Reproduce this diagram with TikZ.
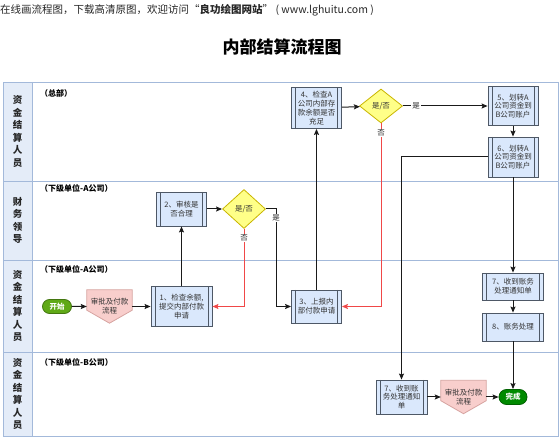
\documentclass[tikz,border=0pt]{standalone}
\usepackage{fontspec}
\setmainfont{Noto Sans CJK SC}
\usetikzlibrary{arrows.meta,shapes.geometric,shapes.misc,backgrounds}
\definecolor{laneline}{HTML}{A3B9DA}
\definecolor{headfill}{HTML}{E4ECF8}
\definecolor{boxfill}{HTML}{DAE8FC}
\definecolor{boxline}{HTML}{4E5866}
\definecolor{dfill}{HTML}{FFFF88}
\definecolor{dline}{HTML}{C9B500}
\definecolor{opfill}{HTML}{F8CECC}
\definecolor{opline}{HTML}{D6A3A0}
\definecolor{startg}{HTML}{60A917}
\definecolor{endg}{HTML}{008A00}
\definecolor{redl}{HTML}{F04848}
\definecolor{conn}{HTML}{1A1A1A}
\tikzset{
  lane/.style={draw=laneline, line width=0.8pt},
  headtxt/.style={font=\fontsize{9.5}{12.5}\selectfont\bfseries, align=center, text=black!85},
  sublbl/.style={font=\fontsize{8}{9}\selectfont\bfseries, anchor=west, inner sep=0pt},
  proc/.style={draw=boxline, fill=boxfill, line width=0.8pt, align=center, inner sep=1pt,
    font=\fontsize{7.5}{8.8}\selectfont, text=black!80,
    path picture={
      \draw[boxline, line width=0.8pt] ([xshift=4pt]path picture bounding box.north west) -- ([xshift=4pt]path picture bounding box.south west);
      \draw[boxline, line width=0.8pt] ([xshift=-4pt]path picture bounding box.north east) -- ([xshift=-4pt]path picture bounding box.south east);}},
  dec/.style={diamond, draw=dline, fill=dfill, line width=0.8pt, inner sep=0pt,
    font=\fontsize{7.5}{9}\selectfont, text=black!80},
  oppage/.style={draw=none, align=center, inner sep=0pt, minimum width=45pt, minimum height=33pt,
    font=\fontsize{7.5}{8.8}\selectfont, text=black!80},
  term/.style={rounded rectangle, line width=0.8pt, inner sep=0pt, text=white,
    font=\fontsize{7.5}{9}\selectfont\bfseries},
  arr/.style={draw=conn, line width=1pt, -{Stealth[length=6pt,width=5pt,inset=1pt]}},
  rarr/.style={draw=redl, line width=1pt, -{Stealth[length=6pt,width=5pt,inset=1pt]}},
  lbl/.style={fill=white, inner sep=1pt, font=\fontsize{7.5}{9}\selectfont, text=black!85},
}
\begin{document}
\begin{tikzpicture}[x=1pt,y=-1pt]
\useasboundingbox (0,0) rectangle (560,438);
% top text and title
\node[anchor=west, inner sep=0pt, font=\fontsize{10.5}{12}\selectfont, text=black!85] (top) at (0,10)
  {在线画流程图，下载高清原图，欢迎访问“\textbf{良功绘图网站}” ( www.lghuitu.com )};
\node[font=\fontsize{17}{20}\selectfont\bfseries] (title) at (282,47) {内部结算流程图};
% lanes
\fill[headfill] (3,82) rectangle (32,436);
\draw[lane] (3,82) rectangle (558,436);
\draw[lane] (32,82) -- (32,436);
\draw[lane] (3,181) -- (558,181);
\draw[lane] (3,260) -- (558,260);
\draw[lane] (3,352) -- (558,352);
\node[headtxt] (h1) at (17.5,131.5) {资\\金\\结\\算\\人\\员};
\node[headtxt] (h2) at (17.5,220.5) {财\\务\\领\\导};
\node[headtxt] (h3) at (17.5,306) {资\\金\\结\\算\\人\\员};
\node[headtxt] (h4) at (17.5,394) {资\\金\\结\\算\\人\\员};
\node[sublbl] (s1) at (40,93) {（总部）};
\node[sublbl] (s2) at (40,188) {（下级单位-A公司）};
\node[sublbl] (s3) at (40,269) {（下级单位-A公司）};
\node[sublbl] (s4) at (40,362) {（下级单位-B公司）};
% nodes
\node[term, fill=startg, draw=startg!70!black, minimum width=29pt, minimum height=14pt] (start) at (57,306.5) {开始};
\node[oppage] (op1) at (109.5,306.5) {审批及付款\\流程};
\node[proc, minimum width=61pt, minimum height=40pt] (b1) at (181.5,306.5) {1、检查余额,\\提交内部付款\\申请};
\node[proc, minimum width=50pt, minimum height=34pt] (b2) at (181.5,209) {2、审核是\\否合理};
\node[dec, minimum width=43pt, minimum height=39pt] (d1) at (244,209) {是/否};
\node[proc, minimum width=50pt, minimum height=33pt] (b3) at (316.5,306.5) {3、上报内\\部付款申请};
\node[proc, minimum width=50pt, minimum height=41pt] (b4) at (316.5,108) {4、检查A\\公司内部存\\款余额是否\\充足};
\node[dec, minimum width=43pt, minimum height=34pt] (d2) at (381,106) {是/否};
\node[proc, minimum width=50pt, minimum height=39pt] (b5) at (513,106) {5、划转A\\公司资金到\\B公司账户};
\node[proc, minimum width=50pt, minimum height=40pt] (b6) at (513,157) {6、划转A\\公司资金到\\B公司账户};
\node[proc, minimum width=61pt, minimum height=27pt] (b7) at (513,286.5) {7、收到账务\\处理通知单};
\node[proc, minimum width=61pt, minimum height=28pt] (b8) at (513,327) {8、账务处理};
\node[proc, minimum width=51pt, minimum height=34pt] (b7b) at (401.5,397) {7、收到账\\务处理通知\\单};
\node[oppage] (op2) at (463.5,397) {审批及付款\\流程};
\node[term, fill=endg, draw=endg!70!black, minimum width=28pt, minimum height=15pt] (end) at (513,397) {完成};
\begin{scope}[on background layer]
\foreach \o in {op1,op2}{
  \draw[draw=opline, fill=opfill, line width=0.8pt] (\o.north west) -- (\o.north east) -- ([yshift=13pt]\o.south east) -- (\o.south) -- ([yshift=13pt]\o.south west) -- cycle;
}
\end{scope}
% connectors
\draw[arr] (start) -- (op1);
\draw[arr] (op1) -- (b1);
\draw[arr] (b1) -- (b2);
\draw[arr] (b2) -- (d1);
\draw[arr] (d1.east) -- ++(10.5,0) |- (b3.west);
\draw[rarr] (d1.south) |- (b1.east);
\draw[arr] (b3) -- (b4);
\draw[arr] (b4) -- (d2);
\draw[arr] (d2) -- (b5);
\draw[rarr] (d2.south) |- (b3.east);
\draw[arr] (b5) -- (b6);
\draw[arr] (b6.west) -| (b7b.north);
\draw[arr] (b6) -- (b7);
\draw[arr] (b7) -- (b8);
\draw[arr] (b8) -- (end);
\draw[arr] (b7b) -- (op2);
\draw[arr] (op2) -- (end);
% labels
\node[lbl] (y1) at (276,218) {是};
\node[lbl] (n1) at (244,238) {否};
\node[lbl] (y2) at (416,105.5) {是};
\node[lbl] (n2) at (381,133) {否};
\end{tikzpicture}
\end{document}
